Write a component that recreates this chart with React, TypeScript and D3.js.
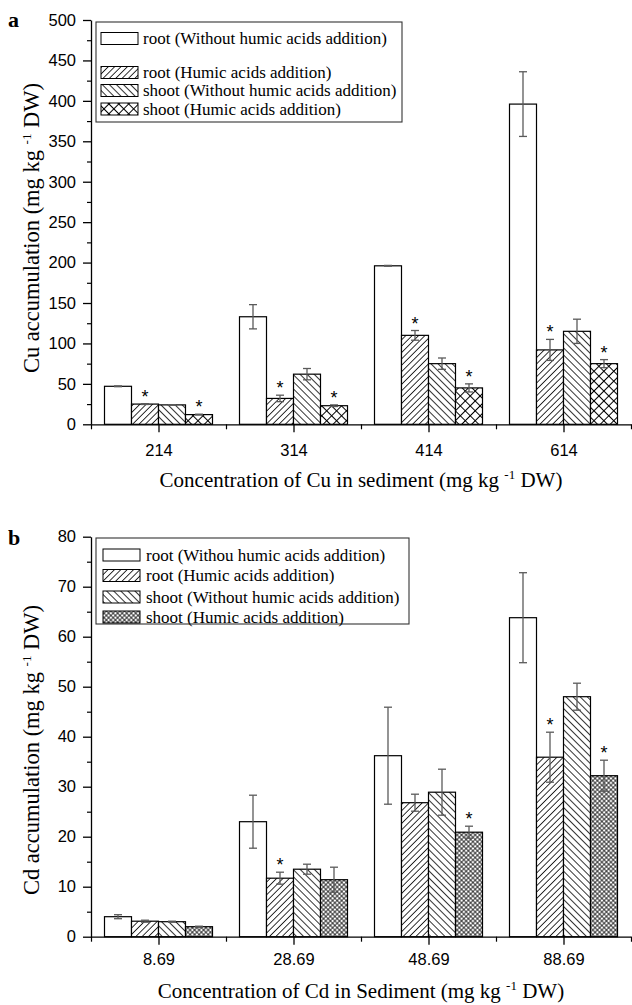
import * as d3 from "d3";
import { useEffect, useRef } from "react";

// panel a: Cu
const cuCategories = ["214", "314", "414", "614"];
const cuRootNo = [47, 133, 196, 396];
const cuRootNoErr = [0.5, 15, 0.5, 40];
const cuRootHA = [25, 32, 110, 92];
const cuRootHAErr = [0.5, 4, 6, 13];
const cuShootNo = [24, 62, 75, 115];
const cuShootNoErr = [0.3, 7, 7, 15];
const cuShootHA = [12, 23, 45, 75];
const cuShootHAErr = [0.5, 1, 5, 5];
const cuRootHAStar = [true, true, true, true];
const cuShootHAStar = [true, true, true, true];
const cuYTicks = [0, 50, 100, 150, 200, 250, 300, 350, 400, 450, 500];
const cuLegend = [
  "root (Without humic acids addition)",
  "root (Humic acids addition)",
  "shoot (Without humic acids addition)",
  "shoot (Humic acids addition)",
];

// panel b: Cd
const cdCategories = ["8.69", "28.69", "48.69", "88.69"];
const cdRootNo = [4.0, 23.0, 36.2, 63.8];
const cdRootNoErr = [0.4, 5.3, 9.7, 9];
const cdRootHA = [3.1, 11.7, 26.8, 35.9];
const cdRootHAErr = [0.2, 1.2, 1.7, 5];
const cdShootNo = [3.0, 13.5, 28.9, 48.0];
const cdShootNoErr = [0.1, 1.0, 4.6, 2.7];
const cdShootHA = [2.0, 11.4, 20.9, 32.2];
const cdShootHAErr = [0.1, 2.5, 1.2, 3.1];
const cdRootHAStar = [false, true, false, true];
const cdShootHAStar = [false, false, true, true];
const cdYTicks = [0, 10, 20, 30, 40, 50, 60, 70, 80];
const cdLegend = [
  "root (Withou humic acids addition)",
  "root (Humic acids addition)",
  "shoot (Without humic acids addition)",
  "shoot (Humic acids addition)",
];

const seriesKeys = ["rootNo", "rootHA", "shootNo", "shootHA"];

const chartWidth = 632;
const chartHeight = 1005;
const axisLeft = 91;
const axisRight = 631;
const serif = '"Liberation Serif", "Times New Roman", serif';
const sans = '"Liberation Sans", Arial, sans-serif';

const panelA = {
  letter: "a",
  letterY: 27,
  categories: cuCategories,
  series: [
    { values: cuRootNo, errors: cuRootNoErr, stars: null, fill: "#fff" },
    { values: cuRootHA, errors: cuRootHAErr, stars: cuRootHAStar, fill: "url(#hatchFwd)" },
    { values: cuShootNo, errors: cuShootNoErr, stars: null, fill: "url(#hatchBack)" },
    { values: cuShootHA, errors: cuShootHAErr, stars: cuShootHAStar, fill: "url(#crossWide)" },
  ],
  yTicks: cuYTicks,
  yMax: 500,
  top: 20,
  bottom: 424.3,
  xLabelPad: 12,
  yTitle: "Cu accumulation (mg kg",
  yTitleY: 228,
  xTitle: "Concentration of Cu in sediment (mg kg",
  xTitleY: 487,
  legend: cuLegend,
  legendBox: { x: 96, y: 22, w: 306, h: 100 },
  legendRows: [38.5, 72.5, 90.5, 109],
  swatchX: 101,
  legendTextX: 143,
};

const panelB = {
  letter: "b",
  letterY: 545,
  categories: cdCategories,
  series: [
    { values: cdRootNo, errors: cdRootNoErr, stars: null, fill: "#fff" },
    { values: cdRootHA, errors: cdRootHAErr, stars: cdRootHAStar, fill: "url(#hatchFwd)" },
    { values: cdShootNo, errors: cdShootNoErr, stars: null, fill: "url(#hatchBack)" },
    { values: cdShootHA, errors: cdShootHAErr, stars: cdShootHAStar, fill: "url(#crossFine)" },
  ],
  yTicks: cdYTicks,
  yMax: 80,
  top: 536.7,
  bottom: 936.7,
  xLabelPad: 9,
  yTitle: "Cd accumulation (mg kg",
  yTitleY: 750,
  xTitle: "Concentration of Cd in Sediment (mg kg",
  xTitleY: 998,
  legend: cdLegend,
  legendBox: { x: 96, y: 538, w: 313, h: 86 },
  legendRows: [555, 575.5, 597, 617],
  swatchX: 103,
  legendTextX: 146,
};

function addHatch(defs, id, size, angle, cross, width) {
  const p = defs
    .append("pattern")
    .attr("id", id)
    .attr("patternUnits", "userSpaceOnUse")
    .attr("width", size)
    .attr("height", size)
    .attr("patternTransform", `rotate(${angle})`);
  p.append("rect").attr("width", size).attr("height", size).attr("fill", "#fff");
  p.append("line")
    .attr("x1", size / 2)
    .attr("y1", 0)
    .attr("x2", size / 2)
    .attr("y2", size)
    .attr("stroke", "#000")
    .attr("stroke-width", width);
  if (cross) {
    p.append("line")
      .attr("x1", 0)
      .attr("y1", size / 2)
      .attr("x2", size)
      .attr("y2", size / 2)
      .attr("stroke", "#000")
      .attr("stroke-width", width);
  }
}

function superTitle(sel, main) {
  sel.append("tspan").text(main + " ");
  sel.append("tspan").attr("dy", -8).style("font-size", "13px").text("-1");
  sel.append("tspan").attr("dy", 8).text(" DW)");
}

function drawPanel(svg, cfg) {
  const g = svg.append("g");

  const x = d3
    .scaleBand()
    .domain(cfg.categories)
    .range([axisLeft, axisRight])
    .paddingInner(0.2)
    .paddingOuter(0.1);
  const xs = d3.scaleBand().domain(seriesKeys).range([0, x.bandwidth()]);
  const xPos = d3.scaleLinear().domain([0.5, 4.5]).range([axisLeft, axisRight]);
  const y = d3.scaleLinear().domain([0, cfg.yMax]).range([cfg.bottom, cfg.top]);

  // bars
  cfg.series.forEach((s, si) => {
    const key = seriesKeys[si];
    g.append("g")
      .selectAll("rect")
      .data(s.values)
      .join("rect")
      .attr("x", (d, i) => x(cfg.categories[i]) + xs(key))
      .attr("y", (d) => y(d))
      .attr("width", xs.bandwidth())
      .attr("height", (d) => y(0) - y(d))
      .attr("fill", s.fill)
      .attr("stroke", "#000")
      .attr("stroke-width", 1.2);
  });

  // error bars and asterisks
  cfg.series.forEach((s, si) => {
    const key = seriesKeys[si];
    s.values.forEach((v, i) => {
      const cx = x(cfg.categories[i]) + xs(key) + xs.bandwidth() / 2;
      const e = s.errors[i];
      const eg = g.append("g").attr("stroke", "#5a5a5a").attr("stroke-width", 1.3);
      eg.append("line").attr("x1", cx).attr("x2", cx).attr("y1", y(v - e)).attr("y2", y(v + e));
      eg.append("line").attr("x1", cx - 4).attr("x2", cx + 4).attr("y1", y(v + e)).attr("y2", y(v + e));
      eg.append("line").attr("x1", cx - 4).attr("x2", cx + 4).attr("y1", y(v - e)).attr("y2", y(v - e));
      if (s.stars && s.stars[i]) {
        g.append("text")
          .attr("x", cx)
          .attr("y", y(v + e) - 1)
          .attr("text-anchor", "middle")
          .style("font-family", sans)
          .style("font-size", "18px")
          .text("*");
      }
    });
  });

  // y axis
  const minorY = d3.range(0, cfg.yMax, cfg.yTicks[1] / 2).filter((d) => !cfg.yTicks.includes(d));
  g.append("g")
    .attr("transform", `translate(${axisLeft},0)`)
    .call(d3.axisLeft(y).tickValues(minorY).tickSize(4).tickSizeOuter(0).tickFormat(() => ""))
    .call((a) => a.select(".domain").remove())
    .selectAll("line")
    .attr("stroke-width", 1.2);
  const ya = g
    .append("g")
    .attr("transform", `translate(${axisLeft},0)`)
    .call(d3.axisLeft(y).tickValues(cfg.yTicks).tickSize(8).tickSizeOuter(0).tickPadding(7));
  ya.selectAll("line,path").attr("stroke-width", 1.3);
  ya.selectAll("text").style("font-family", sans).style("font-size", "16.5px").attr("fill", "#000");

  // x axis
  g.append("g")
    .attr("transform", `translate(0,${y(0)})`)
    .call(
      d3
        .axisBottom(xPos)
        .tickValues([0.5, 1.5, 2.5, 3.5, 4.5])
        .tickSize(5)
        .tickSizeOuter(0)
        .tickFormat(() => ""),
    )
    .call((a) => a.select(".domain").remove())
    .selectAll("line")
    .attr("stroke-width", 1.2);
  const xa = g
    .append("g")
    .attr("transform", `translate(0,${y(0)})`)
    .call(
      d3
        .axisBottom(xPos)
        .tickValues([1, 2, 3, 4])
        .tickSize(8)
        .tickSizeOuter(0)
        .tickPadding(cfg.xLabelPad)
        .tickFormat((d) => cfg.categories[d - 1]),
    );
  xa.selectAll("line,path").attr("stroke-width", 1.3);
  xa.selectAll("text").style("font-family", sans).style("font-size", "16.5px").attr("fill", "#000");

  // titles
  const yt = g
    .append("text")
    .attr("transform", `translate(39,${cfg.yTitleY}) rotate(-90)`)
    .attr("text-anchor", "middle")
    .style("font-family", serif)
    .style("font-size", "22.5px");
  superTitle(yt, cfg.yTitle);

  const xt = g
    .append("text")
    .attr("x", (axisLeft + axisRight) / 2)
    .attr("y", cfg.xTitleY)
    .attr("text-anchor", "middle")
    .style("font-family", serif)
    .style("font-size", "21px");
  superTitle(xt, cfg.xTitle);

  g.append("text")
    .attr("x", 8)
    .attr("y", cfg.letterY)
    .style("font-family", serif)
    .style("font-size", "22px")
    .style("font-weight", "700")
    .text(cfg.letter);

  // legend
  const lb = cfg.legendBox;
  const lg = g.append("g");
  lg.append("rect")
    .attr("x", lb.x)
    .attr("y", lb.y)
    .attr("width", lb.w)
    .attr("height", lb.h)
    .attr("fill", "#fff")
    .attr("stroke", "#333")
    .attr("stroke-width", 1.1);
  cfg.legend.forEach((label, i) => {
    const cy = cfg.legendRows[i];
    lg.append("rect")
      .attr("x", cfg.swatchX)
      .attr("y", cy - 6)
      .attr("width", 37)
      .attr("height", 12)
      .attr("fill", cfg.series[i].fill)
      .attr("stroke", "#000")
      .attr("stroke-width", 1);
    lg.append("text")
      .attr("x", cfg.legendTextX)
      .attr("y", cy + 5.5)
      .style("font-family", serif)
      .style("font-size", "17px")
      .text(label);
  });
}

function App() {
  const svgRef = useRef(null);

  useEffect(() => {
    const svg = d3.select(svgRef.current);
    svg.selectAll("*").remove();

    const defs = svg.append("defs");
    addHatch(defs, "hatchFwd", 4.5, 45, false, 0.8);
    addHatch(defs, "hatchBack", 5, -45, false, 0.8);
    addHatch(defs, "crossWide", 7, 45, true, 1);
    addHatch(defs, "crossFine", 3.2, 45, true, 0.75);

    drawPanel(svg, panelA);
    drawPanel(svg, panelB);
  }, []);

  return (
    <svg
      ref={svgRef}
      width={chartWidth}
      height={chartHeight}
      style={{ position: "absolute", left: 0, top: 0, background: "#fff" }}
    ></svg>
  );
}

export default App;
